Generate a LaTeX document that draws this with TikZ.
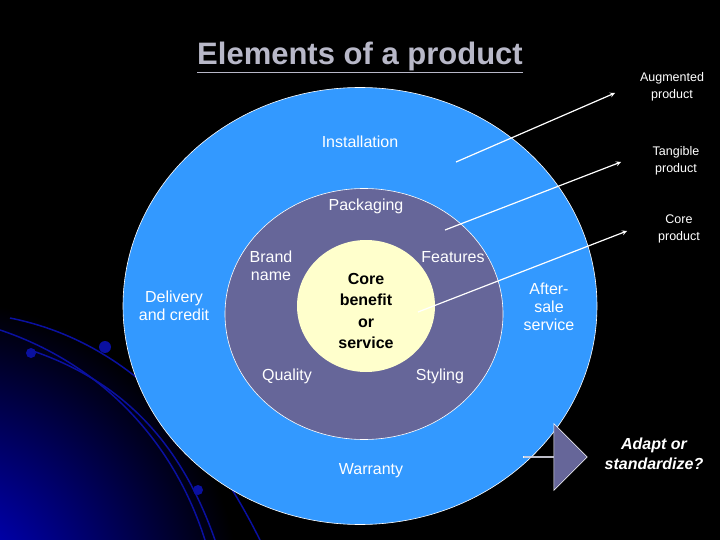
\documentclass[tikz,border=0pt]{standalone}
\usepackage{fontspec}
\setmainfont{Liberation Sans}
\usetikzlibrary{shapes.arrows,shapes.geometric}
\definecolor{outerc}{HTML}{3399FF}
\definecolor{midc}{HTML}{666699}
\definecolor{corec}{HTML}{FFFFCC}
\definecolor{titlec}{HTML}{B8B8C8}
\definecolor{decoc}{HTML}{0A10A0}
\begin{document}
\begin{tikzpicture}[x=1pt,y=-1pt,
  lab/.style={text=white,font=\fontsize{16}{18}\selectfont,align=center,inner sep=0pt},
  side/.style={text=white,font=\fontsize{12.5}{17}\selectfont,align=center,inner sep=0pt},
  ring/.style={draw=white,line width=0.6pt},
  ptr/.style={draw=white,line width=1.2pt,-stealth}]
\useasboundingbox (0,0) rectangle (720,540);
\fill[black] (0,0) rectangle (720,540);
\shade[inner color=blue!90!black,outer color=black] (-60,600) circle (300);
\fill[black] (0,290) .. controls (150,330) and (260,420) .. (300,540) -- (720,540) -- (720,0) -- (0,0) -- cycle;
\draw[decoc,line width=1.5pt] (10,318) .. controls (120,340) and (200,420) .. (260,540);
\draw[decoc,line width=1.5pt] (30,350) .. controls (120,380) and (180,440) .. (215,540);
\draw[decoc,line width=1.5pt] (0,330) .. controls (90,360) and (170,430) .. (205,540);
\fill[decoc] (105,347) circle (6);
\fill[decoc] (31,353) circle (5);
\fill[decoc] (198,490) circle (5);
\node[ring,fill=outerc,ellipse,minimum width=474,minimum height=437] (outer) at (360,306) {};
\node[ring,fill=midc,ellipse,minimum width=278,minimum height=251] (mid) at (364,314) {};
\node[ring,draw=none,fill=corec,ellipse,minimum width=138,minimum height=132] (core) at (366,306) {};
\node[text=titlec,font=\bfseries\fontsize{31}{34}\selectfont] (title) at (360,57) {\underline{Elements of a product}};
\node[lab] (inst) at (360,142) {Installation};
\node[lab] (pack) at (366,206) {Packaging};
\node[lab] (deliv) at (174,306) {Delivery\\and credit};
\node[lab] (brand) at (271,266) {Brand\\name};
\node[lab] (feat) at (453,257) {Features};
\node[lab,text=black,font=\bfseries\fontsize{16}{21.5}\selectfont] (cb) at (366,311) {Core\\benefit\\or\\service};
\node[lab] (after) at (549,307) {After-\\sale\\service};
\node[lab] (qual) at (287,376) {Quality};
\node[lab] (styl) at (440,376) {Styling};
\node[lab] (warr) at (371,471) {Warranty};
\node[side] (aug) at (672,87) {Augmented\\product};
\node[side] (tang) at (676,161) {Tangible\\product};
\node[side] (corep) at (679,229) {Core\\product};
\coordinate (a1) at (456,162); \coordinate (b1) at (615,93);
\coordinate (a2) at (445,230); \coordinate (b2) at (621,162);
\coordinate (a3) at (418,312); \coordinate (b3) at (627,231);
\draw[ptr] (a1) -- (b1);
\draw[ptr] (a2) -- (b2);
\draw[ptr] (a3) -- (b3);
\node[single arrow,draw=white,fill=midc,line width=0.6pt,minimum height=64,minimum width=67,single arrow head extend=16,inner sep=0pt] (arr) at (555,457) {};
\node[text=white,font=\bfseries\itshape\fontsize{16}{20}\selectfont,align=center] (adapt) at (654,454) {Adapt or\\standardize?};
\end{tikzpicture}
\end{document}
